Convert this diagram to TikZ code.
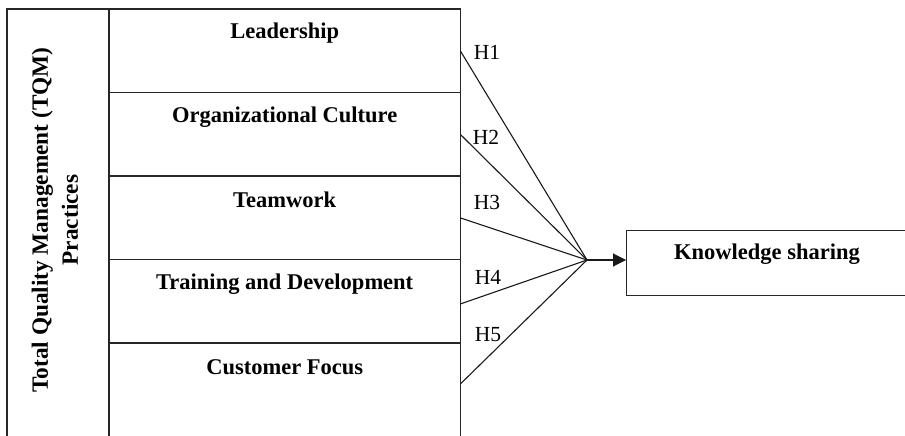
\documentclass[tikz,border=0pt]{standalone}
\usepackage{fontspec}
\setmainfont{Liberation Serif}
\usetikzlibrary{arrows.meta}
\begin{document}
\begin{tikzpicture}[x=1pt,y=-1pt,
  frame/.style={line width=1.3pt, draw=black!85},
  rowlabel/.style={font=\bfseries\fontsize{22.5}{27}\selectfont, inner sep=0pt, anchor=center},
  hlabel/.style={font=\fontsize{21.5}{26}\selectfont, inner sep=0pt, anchor=center},
  link/.style={line width=1.1pt, draw=black!90},
  rowbox/.style={minimum width=351pt, minimum height=83.5pt, inner sep=0pt, anchor=north west}]
  \useasboundingbox (0,0) rectangle (905,436);
  \clip (0,0) rectangle (905,436);

  % practice rows (frame lines drawn separately, the last row runs off the page)
  \node[rowbox] (r1) at (109,9) {};
  \node[rowbox] (r2) at (109,92.5) {};
  \node[rowbox] (r3) at (109,176) {};
  \node[rowbox] (r4) at (109,259.5) {};
  \node[rowbox] (r5) at (109,343) {};

  % outer frame, title column and row dividers
  \draw[frame] (7,460) -- (7,9) -- (460.5,9) -- (460.5,460);
  \draw[frame] (109,9) -- (109,460);
  \foreach \yy in {92.5,176,259.5,343} \draw[frame] (109,\yy) -- (460.5,\yy);

  % row texts
  \node[rowlabel] (t1) at ([yshift=-24pt]r1.north) {Leadership};
  \node[rowlabel] (t2) at ([yshift=-24.5pt]r2.north) {Organizational Culture};
  \node[rowlabel] (t3) at ([yshift=-24pt]r3.north) {Teamwork};
  \node[rowlabel] (t4) at ([yshift=-24.5pt]r4.north) {Training and Development};
  \node[rowlabel] (t5) at ([yshift=-24pt]r5.north) {Customer Focus};

  % column title
  \node[font=\bfseries\fontsize{23.3}{30}\selectfont, rotate=90, align=center, inner sep=0pt]
    (tqm) at (55,220) {Total Quality Management (TQM)\\Practices};

  % outcome box
  \node[draw=black!85, line width=1.3pt, minimum width=300pt, minimum height=65pt,
        inner sep=0pt, anchor=north west] (ksbox) at (626,230) {};
  \node[rowlabel] (ks) at (767,254) {Knowledge sharing};

  % hypothesised paths converge on one point
  \coordinate (hub) at (587,260);
  \draw[link] (r1.east) -- (hub);
  \draw[link] (r2.east) -- (hub);
  \draw[link] (r3.east) -- (hub);
  \draw[link] ([yshift=-2.5pt]r4.east) -- (hub);
  \draw[link] ([yshift=1pt]r5.east) -- (hub);
  \draw[link, -{Triangle[length=13pt,width=13pt]}] (hub) -- (hub -| ksbox.west);

  % hypothesis labels
  \node[hlabel] (h1) at (487,52) {H1};
  \node[hlabel] (h2) at (486,137) {H2};
  \node[hlabel] (h3) at (487,202) {H3};
  \node[hlabel] (h4) at (488,277) {H4};
  \node[hlabel] (h5) at (488,335) {H5};
\end{tikzpicture}
\end{document}
